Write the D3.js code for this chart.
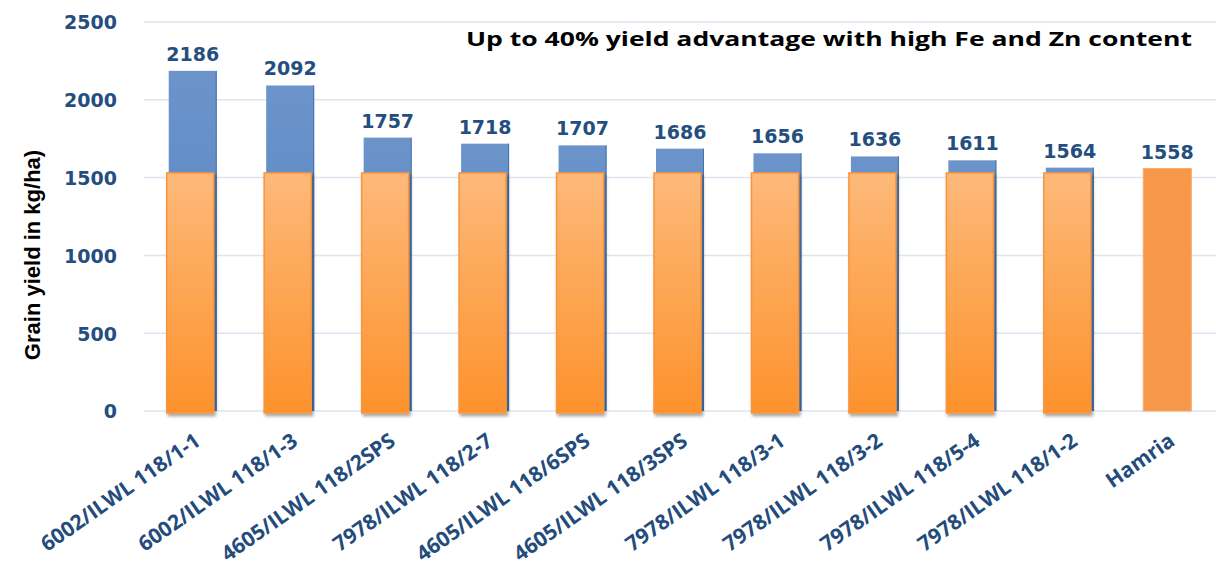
<!DOCTYPE html>
<html><head><meta charset="utf-8">
<script src="https://cdn.jsdelivr.net/npm/d3@7"></script>
<style>body{margin:0;background:#fff}svg{display:block}</style>
</head><body>
<svg id="c" width="1216" height="571"></svg>
<script>
const categories = ["6002/ILWL 118/1-1","6002/ILWL 118/1-3","4605/ILWL 118/2SPS","7978/ILWL 118/2-7","4605/ILWL 118/6SPS","4605/ILWL 118/3SPS","7978/ILWL 118/3-1","7978/ILWL 118/3-2","7978/ILWL 118/5-4","7978/ILWL 118/1-2","Hamria"];
const yieldValues = [2186,2092,1757,1718,1707,1686,1656,1636,1611,1564,1558];
const overlayValues = [1530,1530,1530,1530,1530,1530,1530,1530,1530,1530,null];
const checkName = "Hamria";
const yTicks = [0,500,1000,1500,2000,2500];
const titleText = "Up to 40% yield advantage with high Fe and Zn content";
const yTitle = "Grain yield in kg/ha)";

const svg = d3.select("#c");
const x = d3.scaleBand().domain(categories).range([144,1216]).paddingInner(0.5).paddingOuter(0.25);
const y = d3.scaleLinear().domain([0,2500]).range([411,22]);

const defs = svg.append("defs");
const gb = defs.append("linearGradient").attr("id","gBlue").attr("x1",0).attr("y1",0).attr("x2",0).attr("y2",1);
gb.append("stop").attr("offset","0%").attr("stop-color","#6C94CB");
gb.append("stop").attr("offset","100%").attr("stop-color","#4E80BE");
const go = defs.append("linearGradient").attr("id","gOrange").attr("x1",0).attr("y1",0).attr("x2",0).attr("y2",1);
go.append("stop").attr("offset","0%").attr("stop-color","#FDB97A");
go.append("stop").attr("offset","100%").attr("stop-color","#FD922C");
const sh = defs.append("filter").attr("id","shadow").attr("x","-20%").attr("y","-20%").attr("width","150%").attr("height","150%");
sh.append("feDropShadow").attr("dx",1.5).attr("dy",2.5).attr("stdDeviation",1.5).attr("flood-color","#000").attr("flood-opacity",0.35);

// gridlines
svg.append("g").selectAll("line").data(yTicks).join("line")
  .attr("x1",144).attr("x2",1216).attr("y1",d=>y(d)).attr("y2",d=>y(d))
  .attr("stroke","#DCE5F1").attr("stroke-width",1.5);

// y axis labels
const yAxis = d3.axisLeft(y).tickValues(yTicks).tickFormat(d3.format("d")).tickSize(0).tickPadding(0);
const ya = svg.append("g").attr("transform","translate(117,0)").call(yAxis);
ya.select(".domain").remove();
ya.selectAll("text").attr("font-family","DejaVu Sans").attr("font-weight","bold")
  .attr("font-size",19).attr("fill","#254E80").attr("dy","0.36em");

const bw = x.bandwidth();
const cx = d => x(d) + bw/2;

// main bars
svg.append("g").selectAll("rect").data(categories).join("rect")
  .attr("x",d=>cx(d)-24).attr("width",48)
  .attr("y",(d,i)=>y(yieldValues[i])).attr("height",(d,i)=>y(0)-y(yieldValues[i]))
  .attr("fill",d=>d===checkName?"#F69848":"url(#gBlue)")
  .attr("stroke",d=>d===checkName?"#F8A866":"none").attr("stroke-width",1);

// right edge darker for blue bars
svg.append("g").selectAll("line").data(categories.filter(d=>d!==checkName)).join("line")
  .attr("x1",d=>cx(d)+23.5).attr("x2",d=>cx(d)+23.5)
  .attr("y1",d=>y(yieldValues[categories.indexOf(d)])).attr("y2",y(0))
  .attr("stroke","#4572AE").attr("stroke-width",1);

// overlay bars
svg.append("g").selectAll("rect").data(categories.filter((d,i)=>overlayValues[i]!=null)).join("rect")
  .attr("x",d=>cx(d)-26).attr("width",47)
  .attr("y",d=>y(overlayValues[categories.indexOf(d)])).attr("height",d=>y(0)-y(overlayValues[categories.indexOf(d)])+2)
  .attr("fill","url(#gOrange)").attr("stroke","#F8953E").attr("stroke-width",1.5)
  .attr("filter","url(#shadow)");

// value labels
svg.append("g").selectAll("text").data(categories).join("text")
  .attr("x",d=>cx(d)).attr("y",(d,i)=>y(yieldValues[i])-10)
  .attr("text-anchor","middle").attr("font-family","DejaVu Sans").attr("font-weight","bold")
  .attr("font-size",19).attr("fill","#254E80")
  .text((d,i)=>yieldValues[i]);

// x labels
svg.append("g").selectAll("text").data(categories).join("text")
  .attr("transform",d=>`translate(${cx(d)+9},444) rotate(-35)`)
  .attr("text-anchor","end").attr("font-family","'Open Sans'").attr("font-weight","bold")
  .attr("font-size",21).attr("fill","#234B7C")
  .text(d=>d);

// title
svg.append("text").attr("x",466).attr("y",46)
  .attr("font-family","Open Sans").attr("font-weight","bold").attr("font-size",20)
  .attr("fill","#000").attr("textLength",726).attr("lengthAdjust","spacingAndGlyphs")
  .text(titleText);

// y title
svg.append("text").attr("transform","translate(40,255) rotate(-90)")
  .attr("text-anchor","middle").attr("font-family","'Liberation Sans Narrow','Liberation Sans',Arial")
  .attr("font-weight","bold").attr("font-size",22).attr("fill","#000")
  .text(yTitle);
</script>
</body></html>
